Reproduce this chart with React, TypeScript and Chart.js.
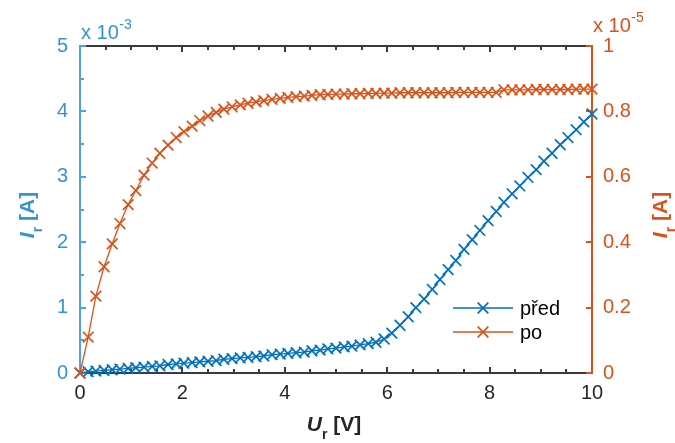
import React, { useEffect, useRef } from 'react';
import { Chart, registerables } from 'chart.js';
Chart.register(...registerables);

// U_r [V]
const xVals = [0, 0.16, 0.31, 0.47, 0.63, 0.78, 0.94, 1.09, 1.25, 1.41, 1.56, 1.72, 1.88, 2.03, 2.19, 2.34, 2.5, 2.66, 2.81, 2.97, 3.13, 3.28, 3.44, 3.59, 3.75, 3.91, 4.06, 4.22, 4.38, 4.53, 4.69, 4.84, 5, 5.16, 5.31, 5.47, 5.63, 5.78, 5.94, 6.09, 6.25, 6.41, 6.56, 6.72, 6.88, 7.03, 7.19, 7.34, 7.5, 7.66, 7.81, 7.97, 8.13, 8.28, 8.44, 8.59, 8.75, 8.91, 9.06, 9.22, 9.38, 9.53, 9.69, 9.84, 10];
// "před" in units of 1e-3 A (left axis)
const predVals = [0, 0.02, 0.03, 0.04, 0.05, 0.06, 0.07, 0.08, 0.09, 0.10, 0.11, 0.13, 0.14, 0.15, 0.16, 0.17, 0.18, 0.19, 0.21, 0.22, 0.23, 0.24, 0.25, 0.26, 0.28, 0.29, 0.30, 0.31, 0.32, 0.34, 0.35, 0.37, 0.38, 0.40, 0.41, 0.43, 0.45, 0.47, 0.52, 0.61, 0.73, 0.86, 1.00, 1.13, 1.28, 1.43, 1.58, 1.72, 1.89, 2.04, 2.18, 2.33, 2.47, 2.61, 2.74, 2.86, 2.99, 3.11, 3.24, 3.36, 3.49, 3.60, 3.72, 3.84, 3.96];
// "po" in units of 1e-5 A (right axis)
const poVals = [0, 0.11, 0.235, 0.325, 0.395, 0.457, 0.515, 0.558, 0.605, 0.642, 0.672, 0.697, 0.72, 0.738, 0.755, 0.772, 0.786, 0.797, 0.807, 0.814, 0.82, 0.825, 0.829, 0.833, 0.837, 0.84, 0.843, 0.845, 0.847, 0.849, 0.851, 0.852, 0.853, 0.853, 0.854, 0.854, 0.855, 0.855, 0.856, 0.856, 0.857, 0.857, 0.857, 0.857, 0.857, 0.857, 0.857, 0.858, 0.858, 0.858, 0.858, 0.858, 0.858, 0.866, 0.866, 0.866, 0.866, 0.867, 0.867, 0.867, 0.867, 0.867, 0.868, 0.868, 0.868];

const seriesNames = ['před', 'po'];
const xLabel = { main: 'U', sub: 'r', rest: ' [V]' };
const yLabel = { main: 'I', sub: 'r', rest: ' [A]' };
const leftExp = '-3';
const rightExp = '-5';

const BLUE = '#0072BD';
const BLUE_TXT = '#3593D3';
const BLUE_AXIS = '#4FA2DC';
const ORANGE = '#D95319';
const DARK = '#3A3A3A';
const TXT_DARK = '#262626';
const FONT = '"Liberation Sans", Arial, Helvetica, sans-serif';
const TICK_SIZE = 20;
const MARK_R = 7.5;
const MARK_W = 1.7;

function crossRot(ctx: CanvasRenderingContext2D, x: number, y: number, r: number) {
  const d = r * Math.SQRT1_2;
  ctx.beginPath();
  ctx.moveTo(x - d, y - d);
  ctx.lineTo(x + d, y + d);
  ctx.moveTo(x - d, y + d);
  ctx.lineTo(x + d, y - d);
  ctx.stroke();
}

function drawRich(ctx: CanvasRenderingContext2D, lbl: { main: string; sub: string; rest: string }, cx: number, cy: number, rot: number, color: string) {
  ctx.save();
  ctx.translate(cx, cy);
  ctx.rotate(rot);
  ctx.fillStyle = color;
  ctx.textBaseline = 'alphabetic';
  ctx.textAlign = 'left';
  const fMain = `italic bold 21px ${FONT}`;
  const fSub = `bold 14px ${FONT}`;
  const fRest = `bold 21px ${FONT}`;
  ctx.font = fMain; const w1 = ctx.measureText(lbl.main).width;
  ctx.font = fSub; const w2 = ctx.measureText(lbl.sub).width;
  ctx.font = fRest; const w3 = ctx.measureText(lbl.rest).width;
  let x = -(w1 + w2 + w3) / 2;
  ctx.font = fMain; ctx.fillText(lbl.main, x, 0); x += w1;
  ctx.font = fSub; ctx.fillText(lbl.sub, x, 8); x += w2;
  ctx.font = fRest; ctx.fillText(lbl.rest, x, 0);
  ctx.restore();
}

function drawExp(ctx: CanvasRenderingContext2D, x: number, y: number, exp: string, color: string) {
  ctx.save();
  ctx.fillStyle = color;
  ctx.textBaseline = 'alphabetic';
  ctx.textAlign = 'left';
  ctx.font = `20px ${FONT}`;
  const base = 'x 10';
  ctx.fillText(base, x, y);
  const w = ctx.measureText(base).width;
  ctx.font = `14px ${FONT}`;
  ctx.fillText(exp, x + w + 0.5, y - 10);
  ctx.restore();
}

function drawFrame(chart: any) {
  const ctx: CanvasRenderingContext2D = chart.ctx;
  const ca = chart.chartArea;
  const sx = chart.scales['x'];
  const sy = chart.scales['y'];
  const sy1 = chart.scales['y1'];
  const L = Math.round(ca.left);
  const R = Math.round(ca.right);
  const T = Math.round(ca.top);
  const B = Math.round(ca.bottom);
  ctx.save();
  ctx.setLineDash([]);
  ctx.globalAlpha = 1;
  ctx.fillStyle = DARK;
  ctx.fillRect(L, T - 1, R - L, 2);
  ctx.fillRect(L, B - 1, R - L, 2);
  for (let i = 0; i <= 20; i++) {
    const px = Math.round(sx.getPixelForValue(i * 0.5));
    const len = i % 4 === 0 ? 6 : 4;
    ctx.fillRect(px - 1, B - len, 2, len);
    ctx.fillRect(px - 1, T, 2, len);
  }
  ctx.fillStyle = BLUE_AXIS;
  ctx.fillRect(L - 1, T - 1, 2, B - T + 2);
  for (let i = 0; i <= 10; i++) {
    const py = Math.round(sy.getPixelForValue(i * 0.5));
    const len = i % 2 === 0 ? 6 : 4;
    ctx.fillRect(L, py - 1, len, 2);
  }
  ctx.fillStyle = ORANGE;
  ctx.fillRect(R - 1, T - 1, 2, B - T + 2);
  for (let i = 0; i <= 5; i++) {
    const py = Math.round(sy1.getPixelForValue(i * 0.2));
    ctx.fillRect(R - 6, py - 1, 6, 2);
  }
  ctx.restore();
}

const framePlugin = {
  id: 'frame',
  beforeDatasetsDraw(chart: any) {
    drawFrame(chart);
  },
  afterDraw(chart: any) {
    const ctx: CanvasRenderingContext2D = chart.ctx;
    const ca = chart.chartArea;
    drawRich(ctx, xLabel, (ca.left + ca.right) / 2 - 2, 431, 0, TXT_DARK);
    drawRich(ctx, yLabel, 34, 215, -Math.PI / 2, BLUE_TXT);
    drawRich(ctx, yLabel, 667, 215, -Math.PI / 2, ORANGE);
    drawExp(ctx, ca.left + 1, 39, leftExp, BLUE_TXT);
    drawExp(ctx, ca.right + 1, 32, rightExp, ORANGE);
    const items = [
      { name: seriesNames[0], color: BLUE, y: 308 },
      { name: seriesNames[1], color: ORANGE, y: 332 },
    ];
    ctx.save();
    for (const it of items) {
      ctx.strokeStyle = it.color;
      ctx.lineWidth = 1.4;
      ctx.beginPath();
      ctx.moveTo(453, it.y); ctx.lineTo(513, it.y);
      ctx.stroke();
      ctx.lineWidth = MARK_W;
      crossRot(ctx, 483, it.y, MARK_R);
      ctx.fillStyle = '#000';
      ctx.font = `20px ${FONT}`;
      ctx.textAlign = 'left';
      ctx.textBaseline = 'alphabetic';
      ctx.fillText(it.name, 520, it.y + 7);
    }
    ctx.restore();
  },
};

export default function App() {
  const ref = useRef<HTMLCanvasElement | null>(null);
  useEffect(() => {
    document.body.style.margin = '0';
    const canvas = ref.current;
    if (!canvas) return;
    const chart = new Chart(canvas, {
      type: 'line',
      data: {
        datasets: [
          {
            label: seriesNames[1],
            data: xVals.map((x, i) => ({ x, y: poVals[i] })),
            yAxisID: 'y1',
            borderColor: ORANGE,
            backgroundColor: ORANGE,
            borderWidth: 1.3,
            pointStyle: 'crossRot',
            pointRadius: MARK_R,
            pointBorderWidth: MARK_W,
            pointBorderColor: ORANGE,
            fill: false,
            tension: 0,
            clip: false as any,
          },
          {
            label: seriesNames[0],
            data: xVals.map((x, i) => ({ x, y: predVals[i] })),
            yAxisID: 'y',
            borderColor: BLUE,
            backgroundColor: BLUE,
            borderWidth: 1.3,
            pointStyle: 'crossRot',
            pointRadius: MARK_R,
            pointBorderWidth: MARK_W,
            pointBorderColor: BLUE,
            fill: false,
            tension: 0,
            clip: false as any,
          },
        ],
      },
      options: {
        animation: false,
        responsive: false,
        maintainAspectRatio: false,
        layout: { padding: { top: 46, left: 0, right: 0, bottom: 0 } },
        plugins: { legend: { display: false }, tooltip: { enabled: false } },
        events: [],
        scales: {
          x: {
            type: 'linear',
            min: 0,
            max: 10,
            grid: { display: false, drawTicks: false },
            border: { display: false },
            ticks: { stepSize: 2, color: TXT_DARK, font: { family: FONT, size: TICK_SIZE }, padding: 8, maxRotation: 0 },
            afterFit: (s: any) => { s.height = 70; },
          },
          y: {
            type: 'linear',
            position: 'left',
            min: 0,
            max: 5,
            grid: { display: false, drawTicks: false },
            border: { display: false },
            ticks: { stepSize: 1, color: BLUE_TXT, font: { family: FONT, size: TICK_SIZE }, padding: 12 },
            afterFit: (s: any) => { s.width = 80; },
          },
          y1: {
            type: 'linear',
            position: 'right',
            min: 0,
            max: 1,
            grid: { display: false, drawTicks: false },
            border: { display: false },
            ticks: {
              stepSize: 0.2,
              color: ORANGE,
              font: { family: FONT, size: TICK_SIZE },
              padding: 11,
              callback: (v: any) => String(Math.round(Number(v) * 10) / 10),
            },
            afterFit: (s: any) => { s.width = 83; },
          },
        },
      } as any,
      plugins: [framePlugin],
    });
    return () => chart.destroy();
  }, []);
  return (
    <div style={{ width: 675, height: 443, background: '#fff' }}>
      <canvas ref={ref} width={675} height={443} style={{ display: 'block' }} />
    </div>
  );
}
